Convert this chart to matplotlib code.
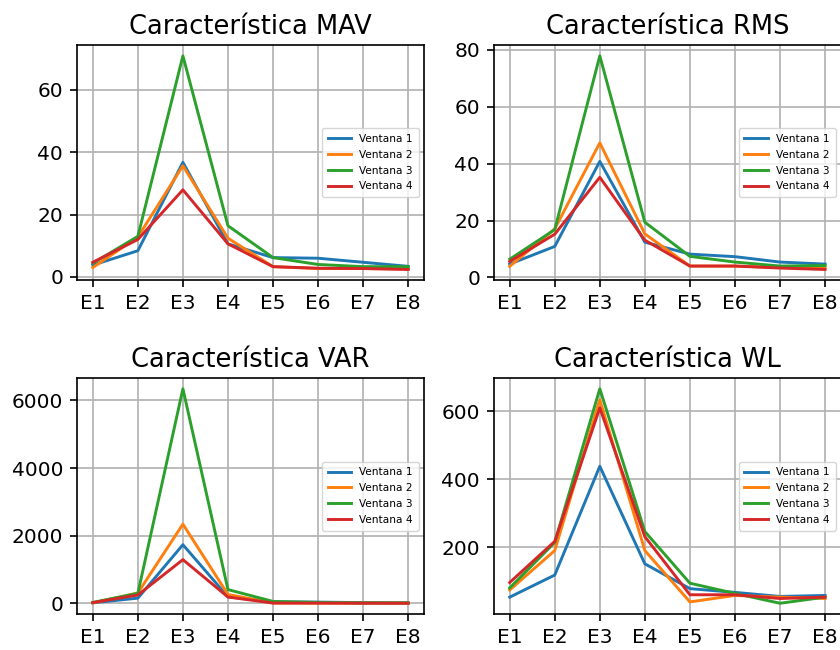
import numpy as np
import matplotlib
matplotlib.use('Agg')
import matplotlib.pyplot as plt

electrodes = ['E1', 'E2', 'E3', 'E4', 'E5', 'E6', 'E7', 'E8']
windows = ['Ventana 1', 'Ventana 2', 'Ventana 3', 'Ventana 4']

mav = [
    [3.8, 8.4, 36.7, 10.6, 6.2, 6.0, 4.7, 3.4],
    [3.0, 12.8, 35.6, 12.4, 3.3, 2.7, 2.7, 2.6],
    [4.4, 13.0, 70.8, 16.4, 6.2, 4.0, 3.3, 3.3],
    [4.7, 12.0, 27.9, 10.6, 3.3, 2.8, 2.7, 2.4],
]
rms = [
    [4.7, 10.9, 40.8, 12.4, 8.2, 7.3, 5.4, 4.7],
    [3.9, 17.1, 47.3, 15.3, 4.0, 4.0, 3.5, 3.4],
    [6.4, 16.8, 77.9, 19.4, 7.4, 5.4, 4.0, 4.2],
    [5.6, 15.2, 35.2, 13.1, 4.0, 4.0, 3.3, 2.8],
]
var = [
    [20, 157, 1735, 196, 49, 40, 25, 20],
    [15, 310, 2342, 265, 15, 10, 10, 10],
    [30, 300, 6340, 410, 60, 30, 15, 15],
    [25, 250, 1294, 190, 12, 10, 8, 6],
]
wl = [
    [53, 118, 438, 151, 78, 67, 55, 58],
    [74, 190, 634, 190, 39, 58, 53, 49],
    [80, 214, 666, 246, 94, 64, 35, 53],
    [96, 217, 610, 231, 60, 60, 49, 53],
]

panels = [('MAV', mav), ('RMS', rms), ('VAR', var), ('WL', wl)]
colors = ['#1f77b4', '#ff7f0e', '#2ca02c', '#d62728']

# axes rectangles in figure fraction (left, bottom, width, height)
rects = [
    (0.0917, 0.569, 0.413, 0.3615),
    (0.588, 0.569, 0.413, 0.3615),
    (0.0917, 0.0554, 0.413, 0.363),
    (0.588, 0.0554, 0.413, 0.363),
]

fig = plt.figure(figsize=(8.4, 6.5), dpi=100)
x = np.arange(len(electrodes))
for (name, data), rect in zip(panels, rects):
    ax = fig.add_axes(rect)
    for i, w in enumerate(windows):
        ax.plot(x, data[i], color=colors[i], lw=2.1, label=w)
    ax.set_xticks(x)
    ax.set_xticklabels(electrodes)
    ax.tick_params(labelsize=14.5, length=5, width=1.2, pad=5, colors='black')
    ax.grid(True, color='#b0b0b0', lw=1.2)
    ax.set_axisbelow(True)
    for s in ax.spines.values():
        s.set_linewidth(1.2)
    ax.set_title(f'Característica {name}', fontsize=18.5, pad=8)
    ax.legend(loc='center right', fontsize=7.6, handlelength=2.2,
              labelspacing=0.55, borderpad=0.55)

fig.savefig('out.png', dpi=100)
